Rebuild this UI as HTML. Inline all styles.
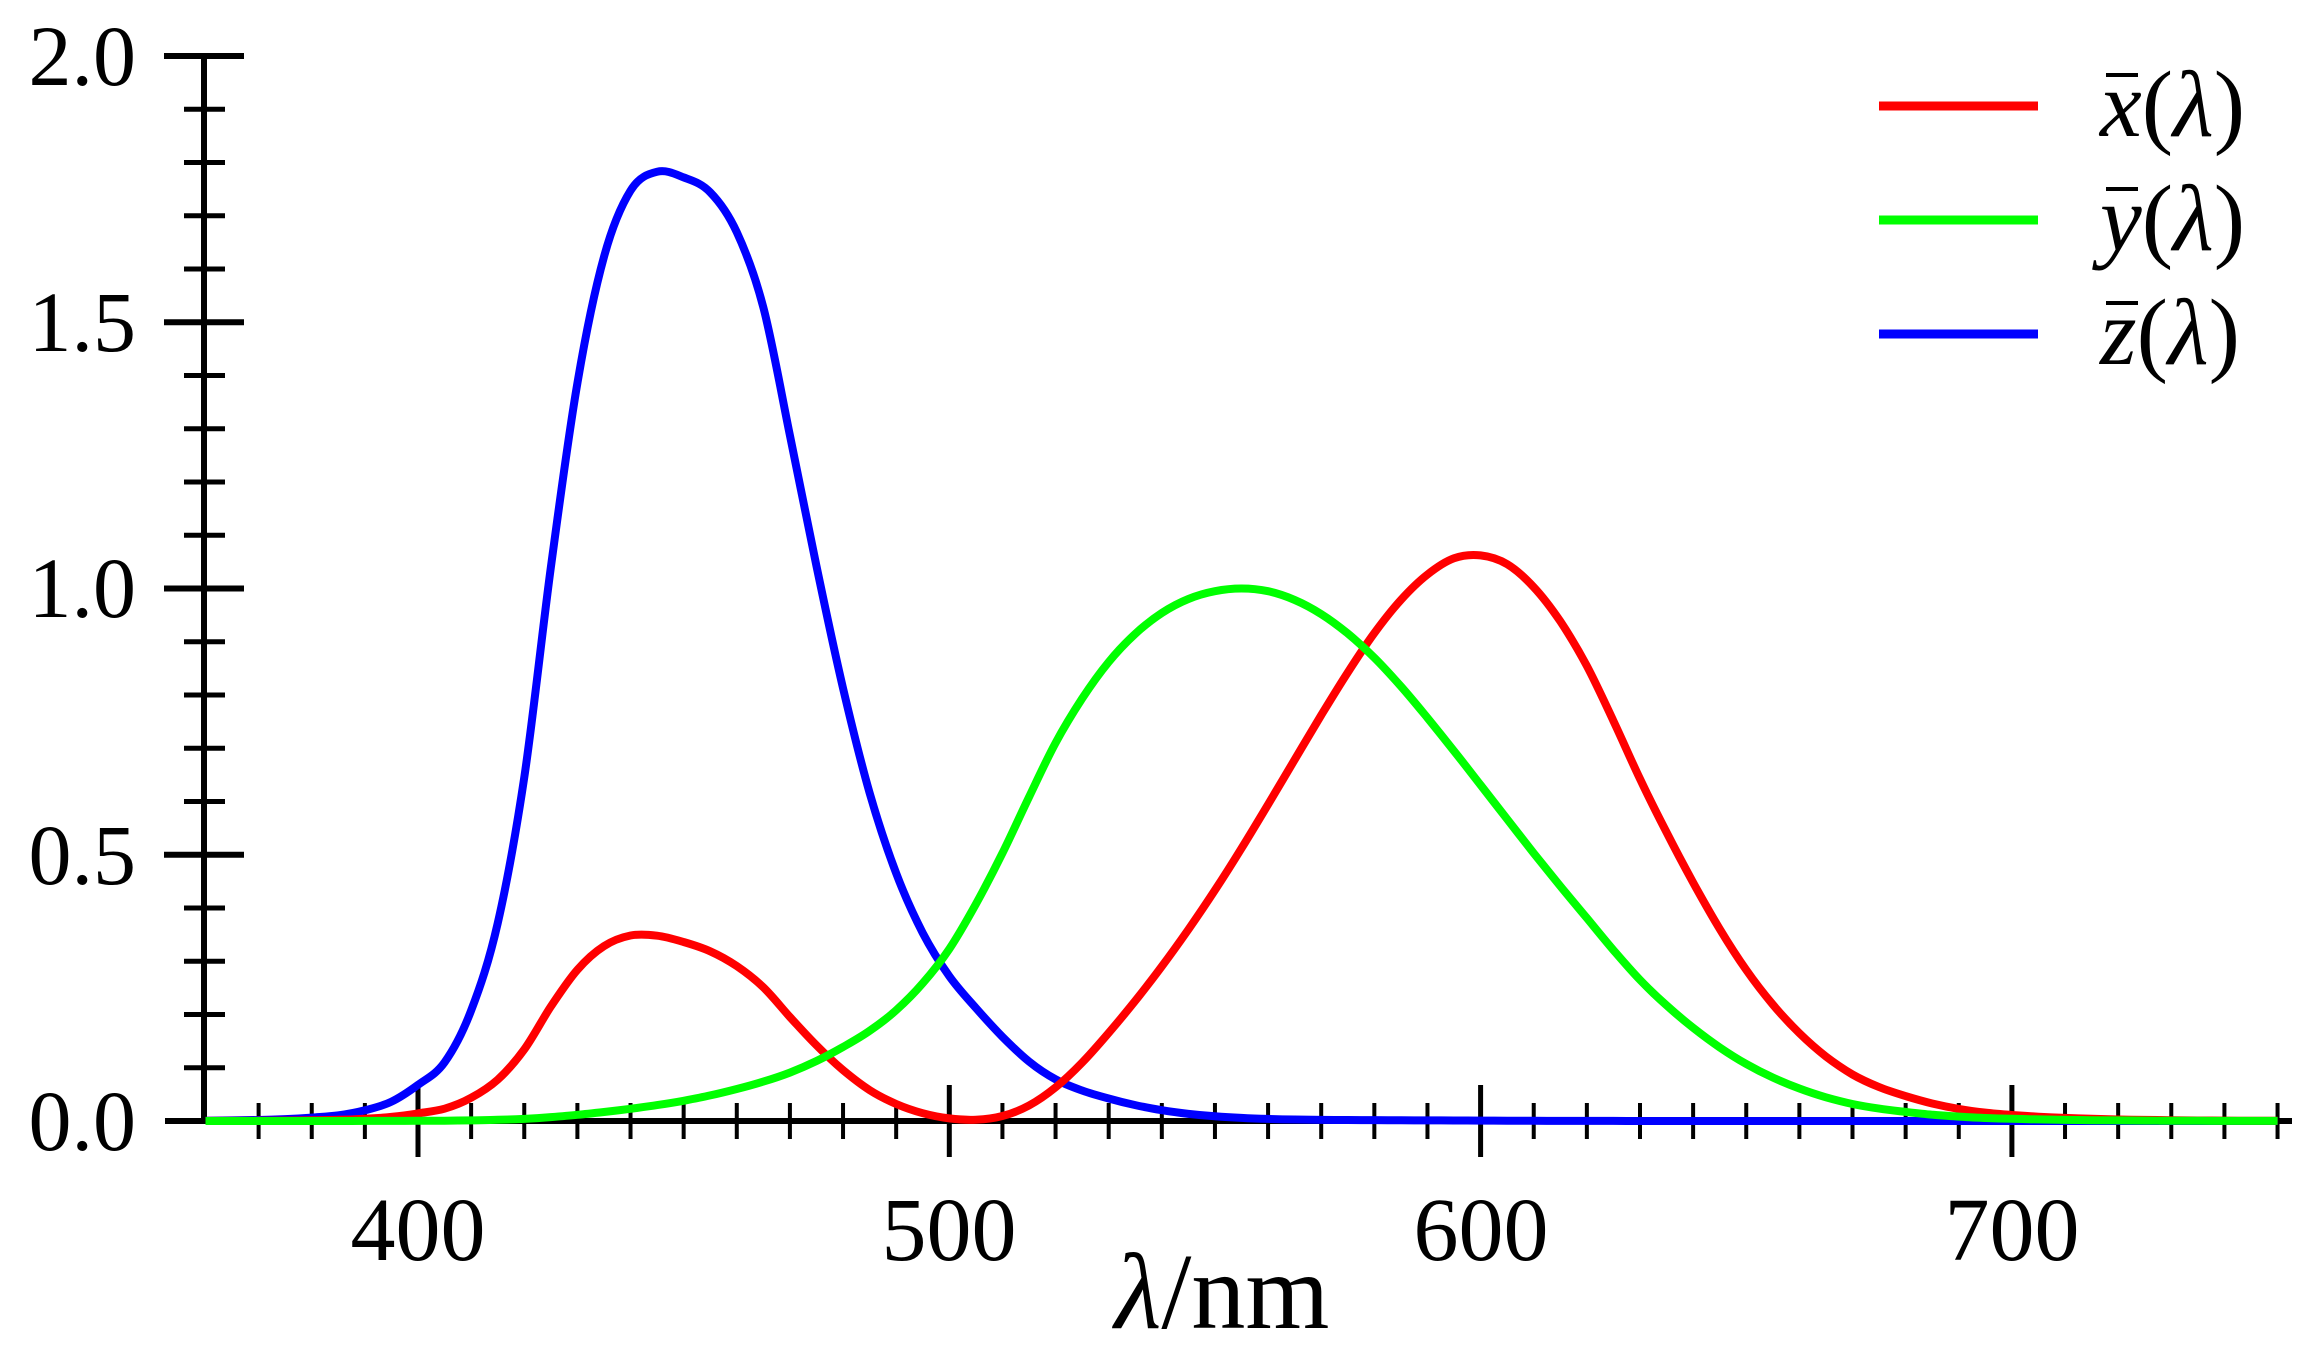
<!DOCTYPE html>
<html><head><meta charset="utf-8"><style>html,body{margin:0;padding:0;background:#fff}svg{display:block}</style></head>
<body>
<svg id="s" width="2319" height="1372" viewBox="0 0 2319 1372" xmlns="http://www.w3.org/2000/svg">
<g id="axes" stroke="#000" fill="none"></g>
<g id="curves" fill="none" stroke-width="8" stroke-linejoin="round"></g>
<g font-family="Liberation Serif, serif" font-size="86" fill="#000">
<text x="136" y="85" text-anchor="end">2.0</text>
<text x="136" y="351" text-anchor="end">1.5</text>
<text x="136" y="617" text-anchor="end">1.0</text>
<text x="136" y="884" text-anchor="end">0.5</text>
<text x="136" y="1150" text-anchor="end">0.0</text>
<g font-size="90">
<text x="418" y="1260" text-anchor="middle">400</text>
<text x="949" y="1260" text-anchor="middle">500</text>
<text x="1481" y="1260" text-anchor="middle">600</text>
<text x="2012" y="1260" text-anchor="middle">700</text>
</g>
<text x="1222" y="1328" text-anchor="middle" font-size="108"><tspan font-style="italic">λ</tspan>/nm</text>
</g>
<g stroke-width="9">
<line x1="1879" y1="106" x2="2038" y2="106" stroke="#f00"/>
<line x1="1879" y1="220" x2="2038" y2="220" stroke="#0f0"/>
<line x1="1879" y1="334" x2="2038" y2="334" stroke="#00f"/>
</g>
<g font-family="Liberation Serif, serif" font-size="94" fill="#000">
<text x="2100" y="136"><tspan font-style="italic">x</tspan>(<tspan font-style="italic">λ</tspan>)</text>
<text x="2100" y="250"><tspan font-style="italic">y</tspan>(<tspan font-style="italic">λ</tspan>)</text>
<text x="2100" y="364"><tspan font-style="italic">z</tspan>(<tspan font-style="italic">λ</tspan>)</text>
</g>
<g stroke="#000" stroke-width="4">
<line x1="2106" y1="75" x2="2138" y2="75"/>
<line x1="2106" y1="189" x2="2138" y2="189"/>
<line x1="2106" y1="303" x2="2138" y2="303"/>
</g>
</svg>
<script>
var NS="http://www.w3.org/2000/svg";
function X(l){return 418+(l-400)*5.313;}
function Y(v){return 1121-v*532.5;}
var ax=document.getElementById("axes");
function ln(x1,y1,x2,y2,w){var e=document.createElementNS(NS,"line");e.setAttribute("x1",x1);e.setAttribute("y1",y1);e.setAttribute("x2",x2);e.setAttribute("y2",y2);e.setAttribute("stroke-width",w);ax.appendChild(e);}
ln(204,53,204,1121,6);
ln(165,1121,2292,1121,6);
for(var i=1;i<=20;i++){var y=Y(i*0.1);if(i%5==0)ln(164,y,244,y,6);else ln(184,y,225,y,5);}
for(var l=370;l<=750;l+=10){var x=X(l);if(l%100==0)ln(x,1085,x,1157,5);else ln(x,1103,x,1139,4);}
var d=[[360,0.00013,0.000004,0.0006],[365,0.00023,0.000007,0.0011],[370,0.00041,0.000012,0.0019],[375,0.0008,0.000022,0.0036],
[380,0.001368,0.000039,0.00645],[385,0.002236,0.000064,0.01055],[390,0.004243,0.00012,0.02005],[395,0.00765,0.000217,0.03621],[400,0.01431,0.000396,0.06785],[405,0.02319,0.00064,0.1102],[410,0.04351,0.00121,0.2074],[415,0.07763,0.00218,0.3713],[420,0.13438,0.004,0.6456],[425,0.21477,0.0073,1.03905],[430,0.2839,0.0116,1.3856],[435,0.3285,0.01684,1.62296],[440,0.34828,0.023,1.74706],[445,0.34806,0.0298,1.7826],[450,0.3362,0.038,1.77211],[455,0.3187,0.048,1.7441],[460,0.2908,0.06,1.6692],[465,0.2511,0.0739,1.5281],[470,0.19536,0.09098,1.28764],[475,0.1421,0.1126,1.0419],[480,0.09564,0.13902,0.81295],[485,0.05795,0.1693,0.6162],[490,0.03201,0.20802,0.46518],[495,0.0147,0.2586,0.3533],[500,0.0049,0.323,0.272],[505,0.0024,0.4073,0.2123],[510,0.0093,0.503,0.1582],[515,0.0291,0.6082,0.1117],[520,0.06327,0.71,0.07825],[525,0.1096,0.7932,0.05725],[530,0.1655,0.862,0.04216],[535,0.22575,0.91485,0.02984],[540,0.2904,0.954,0.0203],[545,0.3597,0.9803,0.0134],[550,0.43345,0.99495,0.00875],[555,0.51205,1,0.00575],[560,0.5945,0.995,0.0039],[565,0.6784,0.9786,0.00275],[570,0.7621,0.952,0.0021],[575,0.8425,0.9154,0.0018],[580,0.9163,0.87,0.00165],[585,0.9786,0.8163,0.0014],[590,1.0263,0.757,0.0011],[595,1.0567,0.6949,0.001],[600,1.0622,0.631,0.0008],[605,1.0456,0.5668,0.0006],[610,1.0026,0.503,0.00034],[615,0.9384,0.4412,0.00024],[620,0.85445,0.381,0.00019],[625,0.7514,0.321,0.0001],[630,0.6424,0.265,0.00005],[635,0.5419,0.217,0.00003],[640,0.4479,0.175,0.00002],[645,0.3608,0.1382,0.00001],[650,0.2835,0.107,0],[655,0.2187,0.0816,0],[660,0.1649,0.061,0],[665,0.1212,0.04458,0],[670,0.0874,0.032,0],[675,0.0636,0.0232,0],[680,0.04677,0.017,0],[685,0.0329,0.01192,0],[690,0.0227,0.00821,0],[695,0.01584,0.005723,0],[700,0.011359,0.004102,0],[705,0.008111,0.002929,0],[710,0.00579,0.002091,0],[715,0.004109,0.001484,0],[720,0.002899,0.001047,0],[725,0.002049,0.00074,0],[730,0.00144,0.00052,0],[735,0.001,0.000361,0],[740,0.00069,0.000249,0],[745,0.000476,0.000172,0],[750,0.000332,0.00012,0]];
var cv=document.getElementById("curves");
[[3,"#00f"],[1,"#f00"],[2,"#0f0"]].forEach(function(c){
 var p=d.map(function(r){return [X(r[0]),Y(r[c[0]])];});
 var s="M"+p[0][0].toFixed(1)+","+p[0][1].toFixed(1);
 for(var i=0;i<p.length-1;i++){var p0=p[Math.max(0,i-1)],p1=p[i],p2=p[i+1],p3=p[Math.min(p.length-1,i+2)];
  s+=" C"+(p1[0]+(p2[0]-p0[0])/6).toFixed(1)+","+(p1[1]+(p2[1]-p0[1])/6).toFixed(1)+" "+(p2[0]-(p3[0]-p1[0])/6).toFixed(1)+","+(p2[1]-(p3[1]-p1[1])/6).toFixed(1)+" "+p2[0].toFixed(1)+","+p2[1].toFixed(1);}
 var e=document.createElementNS(NS,"path");e.setAttribute("d",s);e.setAttribute("stroke",c[1]);cv.appendChild(e);
});
</script>
</body></html>
